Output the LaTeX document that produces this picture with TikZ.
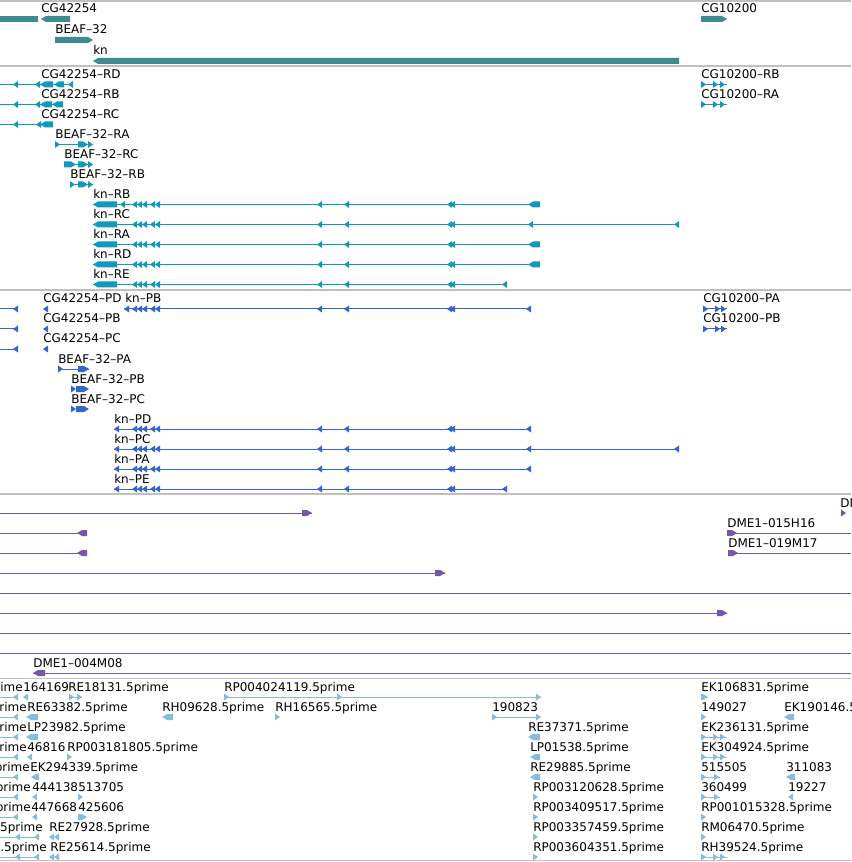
\documentclass[tikz,border=0pt]{standalone}
\usepackage{fontspec}
\setmainfont{DejaVu Sans}
\definecolor{genecol}{RGB}{61,139,143}
\definecolor{mrnacol}{RGB}{17,153,187}
\definecolor{protcol}{RGB}{51,102,204}
\definecolor{bacol}{RGB}{117,87,170}
\definecolor{estcol}{RGB}{136,187,221}
\definecolor{sepcol}{RGB}{192,192,192}
\tikzset{lbl/.style={font=\fontsize{9}{11}\selectfont, text=black, inner sep=0pt, anchor=base west},
  lble/.style={lbl, anchor=base east},
  sepline/.style={draw=sepcol, line width=1.1pt},
  intron/.style={line width=0.75pt}}
\newcommand{\ltri}[2]{\fill (#1,#2) -- (#1+5,#2-3.5) -- (#1+5,#2+3.5) -- cycle;}
\newcommand{\rtri}[2]{\fill (#1+5,#2) -- (#1,#2-3.5) -- (#1,#2+3.5) -- cycle;}
\newcommand{\lblk}[3]{\fill (#1,#3) -- (#1+5,#3-3) -- (#2,#3-3) -- (#2,#3+3) -- (#1+5,#3+3) -- cycle;}
\newcommand{\rblk}[3]{\fill (#2,#3) -- (#2-5,#3-3) -- (#1,#3-3) -- (#1,#3+3) -- (#2-5,#3+3) -- cycle;}
\begin{document}
\begin{tikzpicture}[x=0.75pt,y=-0.75pt]
\useasboundingbox (0,0) rectangle (851,862);
\clip (0,0) rectangle (851,862);
\fill[white] (0,0) rectangle (851,862);
\foreach \yy in {1,66,290,494,678.5,860.5} {\draw[sepline] (0,\yy) -- (851,\yy);}

\begin{scope}[color=genecol]
\fill (0,16) rectangle (38,22); \lblk{41}{70}{19} \rblk{55}{93}{40} \lblk{93}{679}{61} \rblk{701}{727}{19}
\end{scope}
\node[lbl] (cg42254) at (41,13) {CG42254}; \node[lbl] (beaf32) at (55,34) {BEAF–32};
\node[lbl] (kn) at (93,55) {kn}; \node[lbl] (cg10200) at (701,13) {CG10200};

\begin{scope}[color=mrnacol, intron]
\draw (0,84.5) -- (73,84.5); \ltri{13}{84.5} \ltri{35}{84.5} \lblk{40}{53}{84.5} \lblk{54}{64}{84.5} \ltri{68}{84.5}
\draw (0,104.5) -- (63,104.5); \ltri{13}{104.5} \ltri{35}{104.5} \lblk{40}{52}{104.5} \lblk{52}{63}{104.5}
\draw (0,124.5) -- (53,124.5); \ltri{13}{124.5} \ltri{36}{124.5} \lblk{40}{53}{124.5}
\draw (55,144.5) -- (93,144.5); \rtri{55}{144.5} \rblk{78}{88}{144.5} \rtri{88}{144.5}
\draw (64,164.5) -- (93,164.5); \rblk{64}{76}{164.5} \rblk{78}{88}{164.5} \rtri{88}{164.5}
\draw (70,184.5) -- (93,184.5); \rtri{70}{184.5} \rblk{78}{88}{184.5} \rtri{88}{184.5}
\foreach \yy/\xe in {204.5/540,224.5/679,244.5/540,264.5/540,284.5/507} {
  \draw (93,\yy) -- (\xe,\yy); \lblk{93}{117}{\yy}
  \foreach \xx in {132,137,142,150,155,317,344,447,450} {\ltri{\xx}{\yy}}
}
\ltri{120}{204.5} \lblk{528}{540}{204.5} \ltri{528}{224.5} \ltri{674}{224.5}
\lblk{528}{540}{244.5} \lblk{528}{540}{264.5} \ltri{502}{284.5}
\foreach \yy in {84.5,104.5} {\draw (701,\yy) -- (727,\yy); \rtri{701}{\yy} \rtri{713}{\yy} \rtri{720}{\yy}}
\end{scope}
\node[lbl] (rd) at (41,78.5) {CG42254–RD}; \node[lbl] (rb) at (41,98.5) {CG42254–RB};
\node[lbl] (rc) at (41,118.5) {CG42254–RC}; \node[lbl] (bra) at (55,138.5) {BEAF–32–RA};
\node[lbl] (brc) at (64,158.5) {BEAF–32–RC}; \node[lbl] (brb) at (70,178.5) {BEAF–32–RB};
\node[lbl] (knrb) at (93,198.5) {kn–RB}; \node[lbl] (knrc) at (93,218.5) {kn–RC};
\node[lbl] (knra) at (93,238.5) {kn–RA}; \node[lbl] (knrd) at (93,258.5) {kn–RD};
\node[lbl] (knre) at (93,278.5) {kn–RE};
\node[lbl] (crb) at (701,78.5) {CG10200–RB}; \node[lbl] (cra) at (701,98.5) {CG10200–RA};

\begin{scope}[color=protcol, intron]
\foreach \yy in {309,329,349} {\draw (0,\yy) -- (18,\yy); \ltri{13}{\yy} \ltri{43}{\yy}}
\draw (58,369) -- (89,369); \rtri{58}{369} \rblk{78}{89}{369}
\foreach \yy in {389,409} {\rtri{71}{\yy} \rblk{76}{89}{\yy}}
\foreach \yy/\xs/\xe in {309/124/530,429/114/530,449/114/679,469/114/530,489/114/507} {
  \draw (\xs,\yy) -- (\xe,\yy); \ltri{\xs}{\yy}
  \foreach \xx in {132,137,142,150,155,317,344,447,450} {\ltri{\xx}{\yy}}
}
\foreach \yy in {309,429,449,469} {\ltri{526}{\yy}}
\ltri{674}{449} \ltri{502}{489}
\foreach \yy in {309,329} {\draw (703,\yy) -- (727,\yy); \rtri{703}{\yy} \rtri{715}{\yy} \rtri{721}{\yy}}
\end{scope}
\node[lbl] (pd) at (43,303) {CG42254–PD}; \node[lbl] (knpb) at (125,303) {kn–PB};
\node[lbl] (pb) at (43,323) {CG42254–PB}; \node[lbl] (pc) at (43,343) {CG42254–PC};
\node[lbl] (bpa) at (58,363) {BEAF–32–PA}; \node[lbl] (bpb) at (71,383) {BEAF–32–PB};
\node[lbl] (bpc) at (71,403) {BEAF–32–PC};
\node[lbl] (knpd) at (114,423) {kn–PD}; \node[lbl] (knpc) at (114,443) {kn–PC};
\node[lbl] (knpa) at (114,463) {kn–PA}; \node[lbl] (knpe) at (114,483) {kn–PE};
\node[lbl] (cpa) at (703,303) {CG10200–PA}; \node[lbl] (cpb) at (703,323) {CG10200–PB};

\begin{scope}[color=bacol, intron]
\draw (0,513) -- (312,513); \rblk{302}{312}{513} \rtri{841}{513}
\foreach \yy/\xr in {533/727,553/728} {\draw (0,\yy) -- (87,\yy); \lblk{77}{87}{\yy} \draw (\xr,\yy) -- (851,\yy); \rblk{\xr}{\xr+10}{\yy}}
\draw (0,573) -- (445,573); \rblk{435}{445}{573}
\draw (0,613) -- (727,613); \rblk{717}{727}{613}
\foreach \yy in {593,633,653} {\draw (0,\yy) -- (851,\yy);}
\draw (33,673) -- (851,673); \lblk{33}{45}{673}
\end{scope}
\node[lbl] (dmeA) at (840,507) {DME1–0};
\node[lbl] (dmeB) at (727,527) {DME1–015H16}; \node[lbl] (dmeC) at (728,547) {DME1–019M17};
\node[lbl] (dmeD) at (33,667) {DME1–004M08};

\begin{scope}[color=estcol, intron]
\foreach \yy in {697,717,737,757,777,797,817} {\draw (0,\yy) -- (18,\yy); \ltri{13}{\yy}}
\foreach \yy in {837,857} {\draw (0,\yy) -- (39,\yy); \ltri{15}{\yy} \ltri{34}{\yy} \ltri{49}{\yy} \ltri{54}{\yy} \rtri{533}{\yy}}
\ltri{23}{697} \draw (69,697) -- (82,697); \rtri{69}{697} \rtri{77}{697}
\draw (224,697) -- (541,697); \rtri{224}{697} \rtri{337}{697} \rtri{536}{697} \rblk{701}{708}{697}
\lblk{26}{38}{717} \lblk{162}{173}{717} \rtri{275}{717} \draw (492,717) -- (541,717); \rtri{492}{717} \rtri{536}{717}
\rtri{701}{717} \lblk{784}{794}{717}
\lblk{26}{38}{737} \lblk{528}{540}{737}
\ltri{27}{757} \rtri{67}{757} \lblk{530}{540}{757}
\foreach \yy in {737,757,857} {\draw (701,\yy) -- (727,\yy); \rtri{701}{\yy} \rtri{713}{\yy} \rtri{720}{\yy}}
\lblk{31}{39}{777} \lblk{530}{540}{777} \lblk{786}{795}{777}
\foreach \yy in {777,797} {\draw (701,\yy) -- (720,\yy); \rtri{701}{\yy} \rtri{714}{\yy}}
\ltri{32}{797} \rtri{78}{797} \rtri{533}{797} \ltri{788}{797}
\ltri{32}{817} \rblk{78}{87}{817} \rtri{533}{817} \rtri{701}{817} \rtri{701}{837}
\end{scope}
\node[lble] (e1) at (23,691) {.5prime}; \node[lbl] (f1) at (23,691) {164169};
\node[lbl] (re18131) at (68,691) {RE18131.5prime}; \node[lbl] (rp004024119) at (224,691) {RP004024119.5prime};
\node[lbl] (ek106831) at (701,691) {EK106831.5prime};
\node[lble] (e2) at (27,711) {.5prime}; \node[lbl] (re63382) at (27,711) {RE63382.5prime};
\node[lbl] (rh09628) at (162,711) {RH09628.5prime}; \node[lbl] (rh16565) at (275,711) {RH16565.5prime};
\node[lbl] (f2) at (492,711) {190823}; \node[lbl] (f3) at (701,711) {149027};
\node[lbl] (ek190146) at (784,711) {EK190146.5prime};
\node[lble] (e3) at (27,731) {.5prime}; \node[lbl] (lp23982) at (27,731) {LP23982.5prime};
\node[lbl] (re37371) at (528,731) {RE37371.5prime}; \node[lbl] (ek236131) at (701,731) {EK236131.5prime};
\node[lble] (e4) at (27,751) {.5prime}; \node[lbl] (f4) at (27,751) {46816};
\node[lbl] (rp003181805) at (67,751) {RP003181805.5prime}; \node[lbl] (lp01538) at (530,751) {LP01538.5prime};
\node[lbl] (ek304924) at (701,751) {EK304924.5prime};
\node[lble] (e5) at (30,771) {.5prime}; \node[lbl] (ek294339) at (30,771) {EK294339.5prime};
\node[lbl] (re29885) at (530,771) {RE29885.5prime}; \node[lbl] (f5) at (701,771) {515505};
\node[lbl] (f6) at (786,771) {311083};
\node[lble] (e6) at (31,791) {.5prime}; \node[lbl] (f7) at (32,791) {444138};
\node[lbl] (f8) at (78,791) {513705}; \node[lbl] (rp003120628) at (533,791) {RP003120628.5prime};
\node[lbl] (f9) at (701,791) {360499}; \node[lbl] (f10) at (788,791) {19227};
\node[lble] (e7) at (31,811) {.5prime}; \node[lbl] (f11) at (31,811) {447668};
\node[lbl] (f12) at (78,811) {425606}; \node[lbl] (rp003409517) at (533,811) {RP003409517.5prime};
\node[lbl] (rp001015328) at (701,811) {RP001015328.5prime};
\node[lble] (e8) at (43,831) {.5prime}; \node[lbl] (re27928) at (49,831) {RE27928.5prime};
\node[lbl] (rp003357459) at (533,831) {RP003357459.5prime}; \node[lbl] (rm06470) at (701,831) {RM06470.5prime};
\node[lble] (e9) at (47,851) {1.5prime}; \node[lbl] (re25614) at (50,851) {RE25614.5prime};
\node[lbl] (rp003604351) at (533,851) {RP003604351.5prime}; \node[lbl] (rh39524) at (701,851) {RH39524.5prime};
\end{tikzpicture}
\end{document}
